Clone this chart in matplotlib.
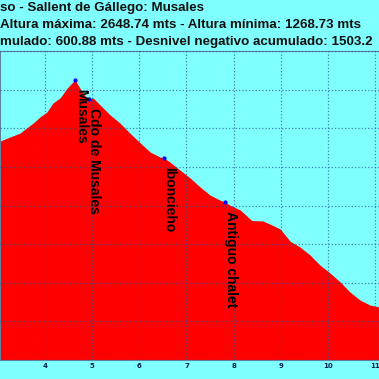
import matplotlib
matplotlib.use("Agg")
import matplotlib.pyplot as plt

# profile: distance (km) and altitude (m)
dist = [3.05, 3.26, 3.47, 3.58, 3.75, 3.89, 4.04, 4.17, 4.32, 4.47, 4.59, 4.64,
        4.74, 4.85, 4.93, 5.02, 5.17, 5.38, 5.59, 5.80, 6.02, 6.23, 6.44, 6.52,
        6.65, 6.86, 7.08, 7.29, 7.50, 7.71, 7.82, 7.92, 8.14, 8.35, 8.39, 8.62,
        8.84, 8.99, 9.20, 9.41, 9.62, 9.83, 10.05, 10.26, 10.47, 10.68, 10.89, 11.09]
alt = [2334, 2355, 2375, 2396, 2427, 2458, 2484, 2531, 2557, 2608, 2639, 2648.74,
       2608, 2567, 2551, 2557, 2520, 2469, 2427, 2375, 2324, 2277, 2251, 2246,
       2225, 2184, 2142, 2096, 2054, 2028, 2018, 2002, 1977, 1930, 1922, 1920,
       1896, 1878, 1815, 1785, 1744, 1692, 1650, 1604, 1552, 1511, 1485, 1474]

wp_names = ["Musales", "Cdo de Musales", "Iboncieho", "Antiguo chalet"]
wp_dist = [4.64, 4.93, 6.52, 7.82]
wp_alt = [2648.74, 2551, 2246, 2018]

title_lines = ["so - Sallent de Gállego: Musales",
               "Altura máxima: 2648.74 mts - Altura mínima: 1268.73 mts",
               "mulado: 600.88 mts - Desnivel negativo acumulado: 1503.2"]
xticks = [4, 5, 6, 7, 8, 9, 10, 11]

bg = "#80ffff"
fig = plt.figure(figsize=(3.79, 3.79), dpi=100, facecolor=bg)
ax = fig.add_axes([0, 19 / 379, 1, 309 / 379])
ax.set_facecolor(bg)

ax.fill_between(dist, 1200, alt, color="#ff0000", lw=0, zorder=1)
ax.set_xlim(3.045, 11.085)
ax.set_ylim(1200, 2800)
ax.set_xticks(xticks)
ax.set_yticks(range(1200, 2801, 200))
ax.set_axisbelow(False)
ax.grid(True, color="#205090", ls=":", lw=0.9, alpha=0.7)
ax.tick_params(length=0, labelleft=False, labelsize=5, labelcolor="#002050", pad=2)
for lab in ax.get_xticklabels():
    lab.set_fontweight("bold")
for s in ax.spines.values():
    s.set_color("#6080a0")
    s.set_linewidth(0.8)

ax.plot(wp_dist, wp_alt, "o", color="blue", ms=2, zorder=4)
for name, d, a in zip(wp_names, wp_dist, wp_alt):
    ax.annotate(name, (d, a), xytext=(-1, -6.5), textcoords="offset points",
                rotation=270, ha="left", va="top", fontsize=10, fontweight="bold",
                family="Liberation Sans", color="black", zorder=5)

for i, line in enumerate(title_lines):
    fig.text(0.0, 1 - (8 + 17 * i) / 379, line, ha="left", va="center",
             fontsize=9.6, fontweight="bold", family="Liberation Sans", color="#101010")

fig.savefig("out.png", dpi=100, facecolor=bg)
